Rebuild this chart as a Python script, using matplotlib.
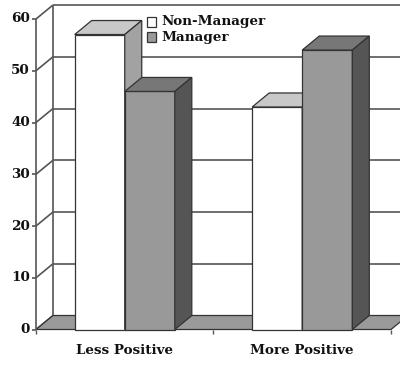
import matplotlib
matplotlib.use("Agg")
import matplotlib.pyplot as plt
from matplotlib.patches import Polygon, Rectangle

# ---- data ----
categories = ["Less Positive", "More Positive"]
series_names = ["Non-Manager", "Manager"]
non_manager = [57, 43]
manager = [46, 54]
y_ticks = [0, 10, 20, 30, 40, 50, 60]

# ---- style ----
FONT = dict(family="DejaVu Serif", weight="bold", size=9.7)
LINE = "#555555"
EDGE = "#333333"
FLOOR = "#9a9a9a"
faces = {
    "Non-Manager": dict(front="#ffffff", top="#c8c8c8", side="#a2a2a2"),
    "Manager": dict(front="#999999", top="#777777", side="#555555"),
}
DEPTH_PX = (17, 14)      # 3-D depth offset in pixels (right, up)
BAR_W = 0.282            # bar width in category units

W, H, DPI = 400, 367, 100
fig = plt.figure(figsize=(W / DPI, H / DPI), dpi=DPI)
ax = fig.add_axes([36 / W, 37.5 / H, 355 / W, 310.5 / H])
x0, x1 = -0.5, 1.5
ymax = 60
ax.set_xlim(x0, x1)
ax.set_ylim(0, ymax)
ax.axis("off")

# pixel -> data conversion for the depth offset
px_x = (x1 - x0) / (ax.get_position().width * W)
px_y = ymax / (ax.get_position().height * H)
dx, dy = DEPTH_PX[0] * px_x, DEPTH_PX[1] * px_y

def poly(pts, fc, ec=EDGE, lw=0.9, z=2):
    ax.add_patch(Polygon(pts, closed=True, facecolor=fc, edgecolor=ec,
                         linewidth=lw, zorder=z, clip_on=False,
                         joinstyle="miter"))

def line(xs, ys, color=LINE, lw=1.2, z=1):
    ax.plot(xs, ys, color=color, lw=lw, zorder=z, clip_on=False,
            solid_capstyle="butt")

# back wall gridlines and side-wall diagonals
for v in y_ticks:
    line([x0 + dx, x1 + dx + 0.2], [v + dy, v + dy])
    line([x0, x0 + dx], [v, v + dy])
line([x0 + dx, x0 + dx], [dy, ymax + dy])

# floor
poly([(x0, 0), (x1, 0), (x1 + dx, dy), (x0 + dx, dy)], FLOOR, z=1.5)

# bars: front, top and right side faces
def bar3d(xl, val, name, z):
    c = faces[name]
    xr = xl + BAR_W
    poly([(xl, 0), (xr, 0), (xr, val), (xl, val)], c["front"], z=z)
    poly([(xl, val), (xr, val), (xr + dx, val + dy), (xl + dx, val + dy)],
         c["top"], z=z)
    poly([(xr, 0), (xr + dx, dy), (xr + dx, val + dy), (xr, val)],
         c["side"], z=z)

for i in range(len(categories)):
    bar3d(i - BAR_W, non_manager[i], "Non-Manager", 3 + i * 2)
    bar3d(i, manager[i], "Manager", 4 + i * 2)

# front value axis with ticks and labels
line([x0, x0], [0, ymax], color=LINE, lw=1.2, z=10)
tick_len = 4 * px_x
for v in y_ticks:
    line([x0 - tick_len, x0], [v, v], color=LINE, lw=1.2, z=10)
    ax.text(x0 - 6 * px_x, v, str(v), ha="right", va="center",
            color="#111111", **FONT)

# category ticks and labels
for xb in [x0, 0.5, x1]:
    line([xb, xb], [0, -4 * px_y], color=LINE, lw=1.0, z=10)
for i, cat in enumerate(categories):
    ax.text(i, -21 * px_y, cat, ha="center", va="center",
            color="#111111", **FONT)

# legend
leg_x = 147
for k, name in enumerate(series_names):
    yc = 22 + 15 * k
    fig.patches.append(Rectangle((leg_x / W, 1 - (yc + 4.5) / H), 9 / W, 9 / H,
                                 transform=fig.transFigure,
                                 facecolor=faces[name]["front"],
                                 edgecolor=EDGE, linewidth=0.9, zorder=20))
    fig.text(161 / W, 1 - yc / H, name, ha="left", va="center",
             color="#111111", **FONT)

fig.savefig("out.png", dpi=DPI, facecolor="white")
